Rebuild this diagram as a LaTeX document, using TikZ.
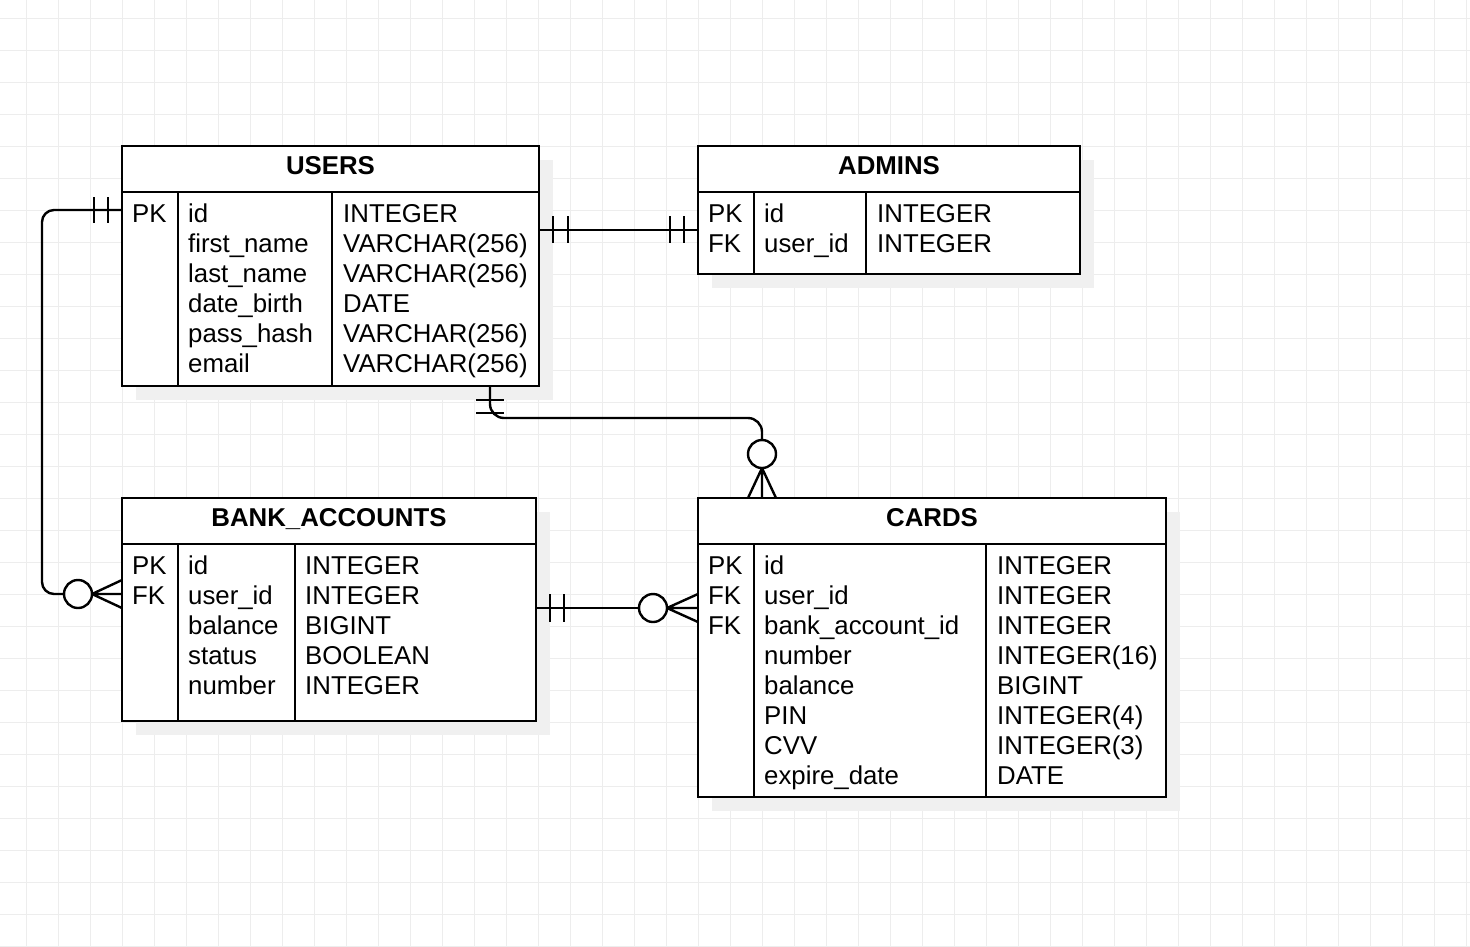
\documentclass[tikz,border=0pt]{standalone}
\usepackage{fontspec}
\setmainfont{Liberation Sans}
\begin{document}
\begin{tikzpicture}[x=1pt,y=-1pt,
  tbl/.style={draw=black, line width=2.4pt, fill=white, inner sep=0pt, outer sep=0pt, anchor=north west},
  shade/.style={fill=black!6, draw=none},
  sep/.style={line width=2.4pt},
  txt/.style={anchor=base west, inner sep=0pt, font=\fontsize{25.8}{30}\selectfont},
  hdr/.style={anchor=base, inner sep=0pt, font=\fontsize{25.8}{30}\selectfont\bfseries},
  conn/.style={line width=2.4pt, line cap=butt},
  bar/.style={line width=2.4pt},
  ring/.style={circle, draw=black, line width=2.4pt, fill=white, minimum size=28pt, inner sep=0pt, outer sep=0pt}]
% background + grid
\fill[white] (0,0) rectangle (1470,946);
\useasboundingbox (0,0) rectangle (1470,946);
\foreach \i in {0,...,45} \draw[black!7, line width=1.2pt] ({26.7+32*\i},0) -- ({26.7+32*\i},946);
\foreach \i in {0,...,29} \draw[black!7, line width=1.2pt] (0,{18.3+32*\i}) -- (1470,{18.3+32*\i});
% shadows
\fill[shade] (136,160) rectangle (553,400);
\fill[shade] (712,160) rectangle (1094,288);
\fill[shade] (136,512) rectangle (550,735);
\fill[shade] (712,512) rectangle (1180,811);

% USERS
\node[tbl, minimum width=417pt, minimum height=240pt] (users) at (122,146) {};
\draw[sep] (122,192) -- (539,192);
\draw[sep] (178,192) -- (178,386);
\draw[sep] (332,192) -- (332,386);
\node[hdr] (users-h) at (330.5,174.5) {USERS};
\foreach \k/\n/\t [count=\i from 0] in {PK/id/INTEGER, {}/first\_name/VARCHAR(256), {}/last\_name/VARCHAR(256), {}/date\_birth/DATE, {}/pass\_hash/VARCHAR(256), {}/email/VARCHAR(256)} {
  \node[txt] (users-k\i) at (132,{222+30*\i}) {\k};
  \node[txt] (users-n\i) at (188,{222+30*\i}) {\n};
  \node[txt] (users-t\i) at (343,{222+30*\i}) {\t};
}

% ADMINS
\node[tbl, minimum width=382pt, minimum height=128pt] (admins) at (698,146) {};
\draw[sep] (698,192) -- (1080,192);
\draw[sep] (754,192) -- (754,274);
\draw[sep] (866,192) -- (866,274);
\node[hdr] (admins-h) at (889,174.5) {ADMINS};
\foreach \k/\n/\t [count=\i from 0] in {PK/id/INTEGER, FK/user\_id/INTEGER} {
  \node[txt] (admins-k\i) at (708,{222+30*\i}) {\k};
  \node[txt] (admins-n\i) at (764,{222+30*\i}) {\n};
  \node[txt] (admins-t\i) at (877,{222+30*\i}) {\t};
}

% BANK_ACCOUNTS
\node[tbl, minimum width=414pt, minimum height=223pt] (bank) at (122,498) {};
\draw[sep] (122,544) -- (536,544);
\draw[sep] (178,544) -- (178,721);
\draw[sep] (295,544) -- (295,721);
\node[hdr] (bank-h) at (329,526.5) {BANK\_ACCOUNTS};
\foreach \k/\n/\t [count=\i from 0] in {PK/id/INTEGER, FK/user\_id/INTEGER, {}/balance/BIGINT, {}/status/BOOLEAN, {}/number/INTEGER} {
  \node[txt] (bank-k\i) at (132,{574+30*\i}) {\k};
  \node[txt] (bank-n\i) at (188,{574+30*\i}) {\n};
  \node[txt] (bank-t\i) at (305,{574+30*\i}) {\t};
}

% CARDS
\node[tbl, minimum width=468pt, minimum height=299pt] (cards) at (698,498) {};
\draw[sep] (698,544) -- (1166,544);
\draw[sep] (754,544) -- (754,797);
\draw[sep] (986,544) -- (986,797);
\node[hdr] (cards-h) at (932,526.5) {CARDS};
\foreach \k/\n/\t [count=\i from 0] in {PK/id/INTEGER, FK/user\_id/INTEGER, FK/bank\_account\_id/INTEGER, {}/number/INTEGER(16), {}/balance/BIGINT, {}/PIN/INTEGER(4), {}/CVV/INTEGER(3), {}/expire\_date/DATE} {
  \node[txt] (cards-k\i) at (708,{574+30*\i}) {\k};
  \node[txt] (cards-n\i) at (764,{574+30*\i}) {\n};
  \node[txt] (cards-t\i) at (997,{574+30*\i}) {\t};
}

% connector 1: USERS.id -> BANK_ACCOUNTS.user_id
\coordinate (c1a) at (122,210);
\coordinate (c1b) at (122,594);
\node[ring] (r1) at (78,594) {};
\draw[conn, rounded corners=12pt] (c1a) -- (42,210) -- (42,594) -- (r1.west);
\draw[bar] (94,197) -- (94,223) (108,197) -- (108,223);
\draw[conn] (r1.east) -- (c1b) (r1.east) -- ([yshift=-14pt]c1b) (r1.east) -- ([yshift=14pt]c1b);

% connector 2: USERS -> ADMINS
\coordinate (c2a) at (539,230);
\coordinate (c2b) at (698,230);
\draw[conn] (c2a) -- (c2b);
\draw[bar] (553,216) -- (553,243) (568,216) -- (568,243) (670,216) -- (670,243) (684,216) -- (684,243);

% connector 3: USERS -> CARDS
\coordinate (c3a) at (490,386);
\coordinate (c3b) at (762,498);
\node[ring] (r3) at (762,454) {};
\draw[conn, rounded corners=14pt] (c3a) -- (490,418) -- (762,418) -- (r3.north);
\draw[bar] (476,400) -- (504,400) (476,413) -- (504,413);
\draw[conn] (r3.south) -- (c3b) (r3.south) -- ([xshift=-14pt]c3b) (r3.south) -- ([xshift=14pt]c3b);

% connector 4: BANK_ACCOUNTS -> CARDS
\coordinate (c4a) at (536,608);
\coordinate (c4b) at (698,608);
\node[ring] (r4) at (653,608) {};
\draw[conn] (c4a) -- (r4.west);
\draw[bar] (550,594) -- (550,622) (564,594) -- (564,622);
\draw[conn] (r4.east) -- (c4b) (r4.east) -- ([yshift=-14pt]c4b) (r4.east) -- ([yshift=14pt]c4b);
\end{tikzpicture}
\end{document}
